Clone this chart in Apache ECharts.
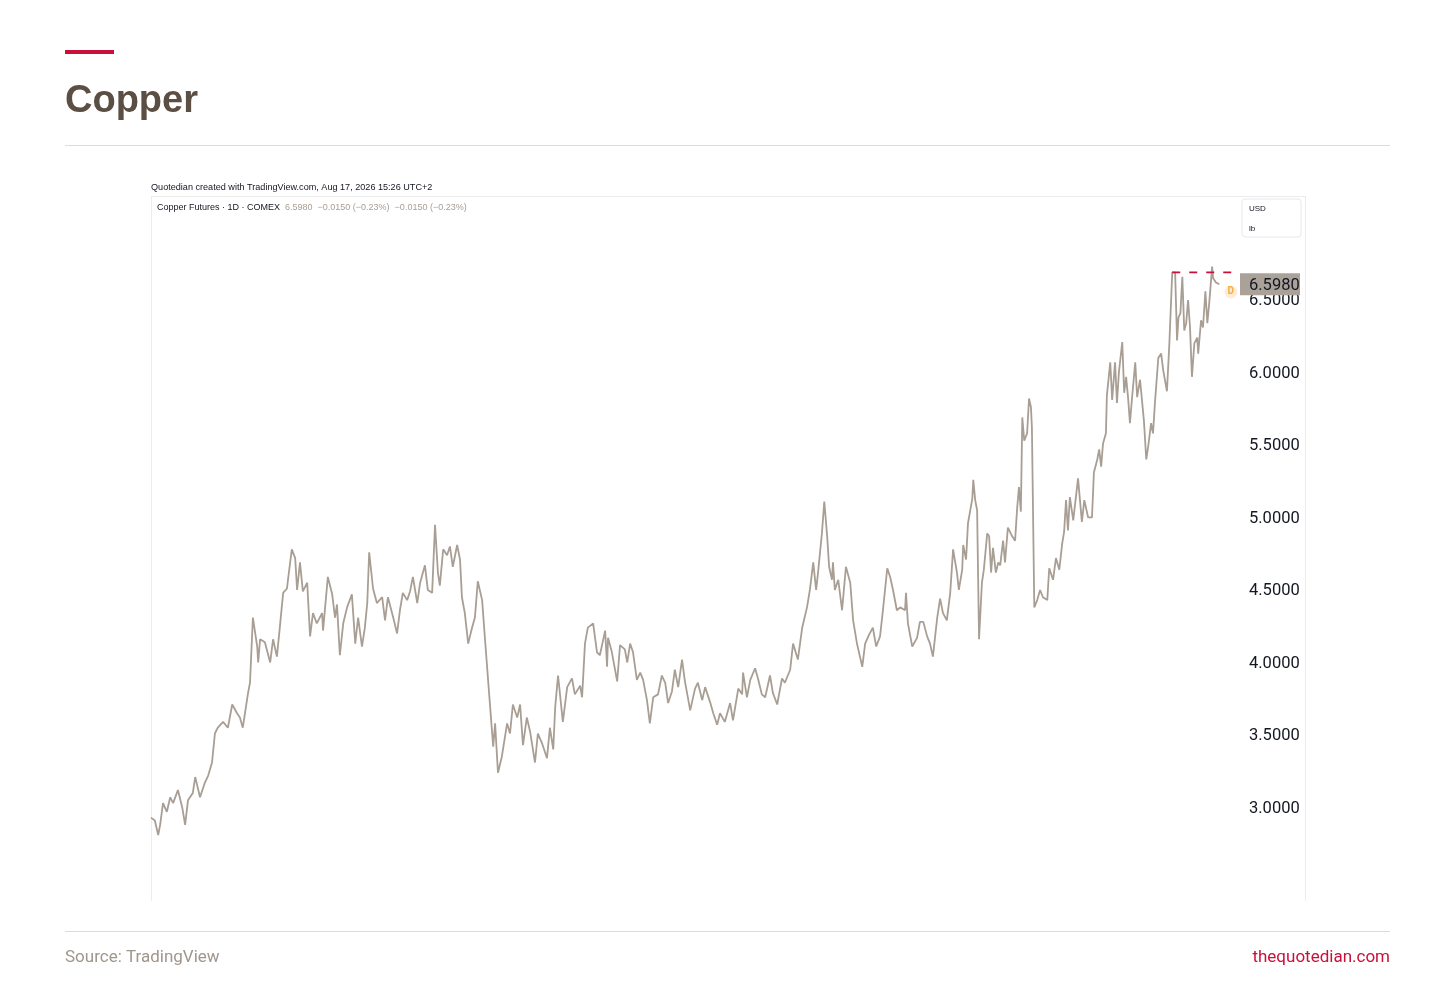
<!DOCTYPE html>
<html>
<head>
<meta charset="utf-8">
<script src="https://cdn.jsdelivr.net/npm/echarts@6/dist/echarts.min.js"></script>
<style>
html,body{margin:0;padding:0;background:#fff;}
#chart{width:1456px;height:990px;}
</style>
</head>
<body>
<div id="chart"></div>
<script>
// Copper Futures (COMEX, 1D) – calendar days since the start date, and price in USD/lb
const startDate = Date.UTC(2020, 6, 16);
const days = [0,8,15,19,25,33,40,46,56,65,71,77,87,92,102,112,119,127,133,139,150,160,169,179,185,191,202,206,212,221,223,227,237,248,254,262,268,275,283,285,293,300,304,310,316,325,331,337,345,356,358,368,377,383,387,393,400,408,418,425,431,439,445,450,454,462,470,481,487,493,504,512,518,524,533,539,545,554,560,570,576,585,591,597,601,608,616,622,628,637,643,647,653,660,668,674,680,689,695,703,712,716,722,730,741,747,753,762,768,774,782,789,799,805,814,824,830,837,841,847,857,866,876,882,893,897,903,909,920,928,934,945,949,951,959,970,976,986,991,997,1003,1011,1018,1024,1032,1038,1045,1055,1063,1070,1076,1084,1090,1097,1105,1111,1122,1132,1138,1147,1153,1163,1170,1178,1184,1194,1205,1211,1222,1230,1232,1240,1247,1257,1263,1271,1278,1288,1294,1303,1313,1319,1330,1336,1346,1355,1365,1371,1378,1384,1388,1396,1401,1407,1411,1417,1419,1423,1430,1438,1446,1455,1461,1469,1480,1486,1494,1502,1509,1517,1523,1532,1538,1544,1552,1559,1569,1571,1575,1584,1594,1600,1607,1615,1621,1627,1636,1642,1648,1656,1663,1669,1677,1681,1688,1690,1696,1700,1709,1711,1715,1719,1723,1729,1733,1740,1744,1748,1752,1758,1763,1767,1773,1777,1783,1792,1798,1802,1806,1810,1813,1817,1823,1827,1831,1833,1838,1844,1850,1856,1865,1869,1877,1883,1890,1896,1900,1904,1908,1912,1919,1929,1937,1942,1950,1958,1962,1969,1973,1977,1981,1987,1989,1996,2000,2006,2010,2014,2021,2025,2029,2033,2037,2041,2048,2052,2058,2062,2066,2071,2075,2081,2085,2089,2096,2102,2106,2114,2119,2125,2131,2135,2138,2142,2146,2150,2154,2158,2162,2166,2171,2177,2179,2185,2189,2194,2198,2202,2208,2210,2216,2223];
const prices = [2.92,2.90,2.80,2.87,3.02,2.96,3.06,3.02,3.11,2.99,2.87,3.04,3.09,3.20,3.06,3.16,3.21,3.30,3.50,3.54,3.58,3.54,3.70,3.64,3.61,3.54,3.78,3.85,4.30,4.10,3.99,4.15,4.13,3.99,4.15,4.03,4.23,4.47,4.50,4.56,4.77,4.71,4.49,4.68,4.48,4.54,4.17,4.33,4.26,4.33,4.21,4.58,4.46,4.30,4.39,4.04,4.26,4.37,4.46,4.12,4.30,4.10,4.23,4.40,4.75,4.50,4.40,4.44,4.28,4.44,4.30,4.19,4.35,4.47,4.42,4.48,4.58,4.40,4.54,4.66,4.49,4.47,4.94,4.61,4.52,4.77,4.73,4.79,4.65,4.80,4.70,4.44,4.33,4.12,4.23,4.30,4.55,4.42,4.15,3.80,3.41,3.57,3.23,3.34,3.57,3.50,3.70,3.61,3.70,3.42,3.61,3.51,3.30,3.50,3.43,3.33,3.54,3.39,3.68,3.90,3.58,3.82,3.88,3.77,3.83,3.75,4.12,4.23,4.26,4.06,4.04,4.21,3.96,4.16,4.06,3.86,4.11,4.08,3.99,4.12,4.06,3.87,3.92,3.87,3.73,3.57,3.75,3.77,3.90,3.85,3.71,3.79,3.94,3.82,4.01,3.86,3.66,3.81,3.85,3.73,3.82,3.72,3.64,3.56,3.64,3.58,3.71,3.59,3.81,3.77,3.92,3.75,3.87,3.95,3.88,3.77,3.75,3.90,3.78,3.70,3.88,3.85,3.94,4.12,4.01,4.23,4.37,4.49,4.68,4.49,4.61,4.88,5.10,4.86,4.65,4.56,4.68,4.49,4.56,4.35,4.65,4.54,4.28,4.12,3.96,4.12,4.18,4.23,4.10,4.17,4.35,4.64,4.58,4.49,4.35,4.37,4.35,4.47,4.26,4.10,4.16,4.27,4.27,4.17,4.12,4.03,4.30,4.43,4.33,4.28,4.47,4.77,4.61,4.49,4.63,4.80,4.70,4.95,5.12,5.25,5.11,5.04,4.15,4.54,4.63,4.88,4.86,4.61,4.78,4.61,4.68,4.66,4.83,4.68,4.92,4.86,4.83,5.04,5.20,5.03,5.68,5.52,5.57,5.81,5.75,5.61,4.37,4.42,4.49,4.44,4.42,4.64,4.56,4.71,4.63,4.81,4.89,5.11,4.90,5.13,4.97,5.26,4.96,5.11,4.99,4.99,5.30,5.39,5.46,5.34,5.50,5.57,5.83,6.06,5.80,6.06,5.78,5.99,6.20,5.85,5.96,5.82,5.64,5.80,6.06,5.82,5.94,5.80,5.66,5.39,5.48,5.64,5.57,5.78,6.09,6.12,6.01,5.86,6.19,6.68,6.68,6.21,6.37,6.40,6.65,6.28,6.33,6.49,6.30,5.96,6.19,6.23,6.12,6.35,6.30,6.55,6.33,6.47,6.72,6.64,6.61,6.598];
// horizontal high line (days, price)
const highLineDays = [2125, 2250];
const highLineValue = 6.68;
// "D" marker
const markDay = 2247;
const markValue = 6.545;
// Price scale ticks
const yTicks = [3.0, 3.5, 4.0, 4.5, 5.0, 5.5, 6.0, 6.5];
const lastPrice = prices[prices.length - 1];
const xMaxDay = 2266;

const toTime = d => startDate + d * 86400000;
const lineData = days.map((d, i) => [toTime(d), prices[i]]);
const highData = highLineDays.map(d => [toTime(d), highLineValue]);

const chart = echarts.init(document.getElementById('chart'), null, {renderer: 'canvas'});

const RED = '#c8103a';
const LINE = '#a89e94';

chart.setOption({
  backgroundColor: '#ffffff',
  animation: false,
  grid: {left: 151, right: 216, top: 196, bottom: 89, containLabel: false},
  xAxis: {
    type: 'time', min: toTime(0), max: toTime(xMaxDay), show: false
  },
  yAxis: {
    type: 'value', position: 'right', min: 2.345, max: 7.207,
    axisLine: {show: false}, axisTick: {show: false}, splitLine: {show: false},
    axisLabel: {
      customValues: yTicks, margin: 9, color: '#131722',
      fontFamily: 'Roboto', fontSize: 16.5, fontWeight: 'normal',
      formatter: v => '{v|' + v.toFixed(4) + '}',
      rich: {v: {padding: [5, 0, 0, 0], color: '#131722', fontFamily: 'Roboto', fontSize: 16.5}}
    }
  },
  series: [
    {
      type: 'line', data: lineData, showSymbol: false, symbol: 'none',
      lineStyle: {color: LINE, width: 1.8}, z: 3
    },
    {
      type: 'line', data: highData, showSymbol: false, symbol: 'none',
      lineStyle: {color: RED, width: 1.8, type: [8, 9]}, z: 4
    },
    {
      type: 'scatter', data: [[toTime(markDay), markValue]], symbol: 'circle', symbolSize: 13,
      itemStyle: {color: '#fde9cc'},
      label: {show: true, position: 'inside', formatter: 'D', color: '#f29b1d', fontWeight: 'bold', fontSize: 10, fontFamily: 'Roboto'},
      z: 5
    }
  ]
});

const yLast = chart.convertToPixel({yAxisIndex: 0}, lastPrice);

chart.setOption({
  graphic: [
    // header
    {type: 'rect', shape: {x: 65, y: 50, width: 49, height: 4}, style: {fill: RED}},
    {type: 'text', x: 65, y: 102, style: {text: 'Copper', fill: '#5b4e43', font: 'bold 38px "Liberation Sans", Arial, sans-serif', textVerticalAlign: 'middle'}},
    {type: 'rect', shape: {x: 65, y: 145, width: 1325, height: 1}, style: {fill: '#dcdcdc'}},
    // TradingView frame
    {type: 'text', x: 151, y: 187, style: {text: 'Quotedian created with TradingView.com, Aug 17, 2026 15:26 UTC+2', fill: '#131722', font: '9.1px "Liberation Sans", sans-serif', textVerticalAlign: 'middle'}},
    {type: 'rect', shape: {x: 151, y: 196, width: 1154, height: 1}, style: {fill: '#ececec'}},
    {type: 'rect', shape: {x: 151, y: 196, width: 1, height: 705}, style: {fill: '#ececec'}},
    {type: 'rect', shape: {x: 1305, y: 196, width: 1, height: 705}, style: {fill: '#ececec'}},
    {type: 'text', x: 157, y: 208, style: {
      text: '{a|Copper Futures · 1D · COMEX}  {b|6.5980  −0.0150 (−0.23%)  −0.0150 (−0.23%)}',
      font: '9px "Liberation Sans", sans-serif', textVerticalAlign: 'middle',
      rich: {a: {fill: '#131722', font: '9px "Liberation Sans", sans-serif'}, b: {fill: '#a89e94', font: '9px "Liberation Sans", sans-serif'}}
    }},
    {type: 'rect', shape: {x: 1242, y: 199, width: 59, height: 38, r: 3}, style: {fill: '#fff', stroke: '#e6e8ee', lineWidth: 1}},
    {type: 'text', x: 1249, y: 209, style: {text: 'USD', fill: '#131722', font: '8px "Liberation Sans", sans-serif', textVerticalAlign: 'middle'}},
    {type: 'text', x: 1249, y: 229, style: {text: 'lb', fill: '#131722', font: '8px "Liberation Sans", sans-serif', textVerticalAlign: 'middle'}},
    // last price label
    {type: 'rect', z: 100, shape: {x: 1240, y: yLast - 11, width: 60, height: 22}, style: {fill: '#aaa299'}},
    {type: 'text', z: 101, x: 1249, y: yLast + 2, style: {text: lastPrice.toFixed(4), fill: '#131722', font: '16.5px Roboto, sans-serif', textVerticalAlign: 'middle'}},
    // footer
    {type: 'rect', shape: {x: 65, y: 931, width: 1325, height: 1}, style: {fill: '#dcdcdc'}},
    {type: 'text', x: 65, y: 958, style: {text: 'Source: TradingView', fill: '#a0968c', font: '17px Roboto, sans-serif', textVerticalAlign: 'middle'}},
    {type: 'text', x: 1390, y: 958, style: {text: 'thequotedian.com', fill: RED, font: '17px Roboto, sans-serif', textAlign: 'right', textVerticalAlign: 'middle'}}
  ]
});
</script>
</body>
</html>
